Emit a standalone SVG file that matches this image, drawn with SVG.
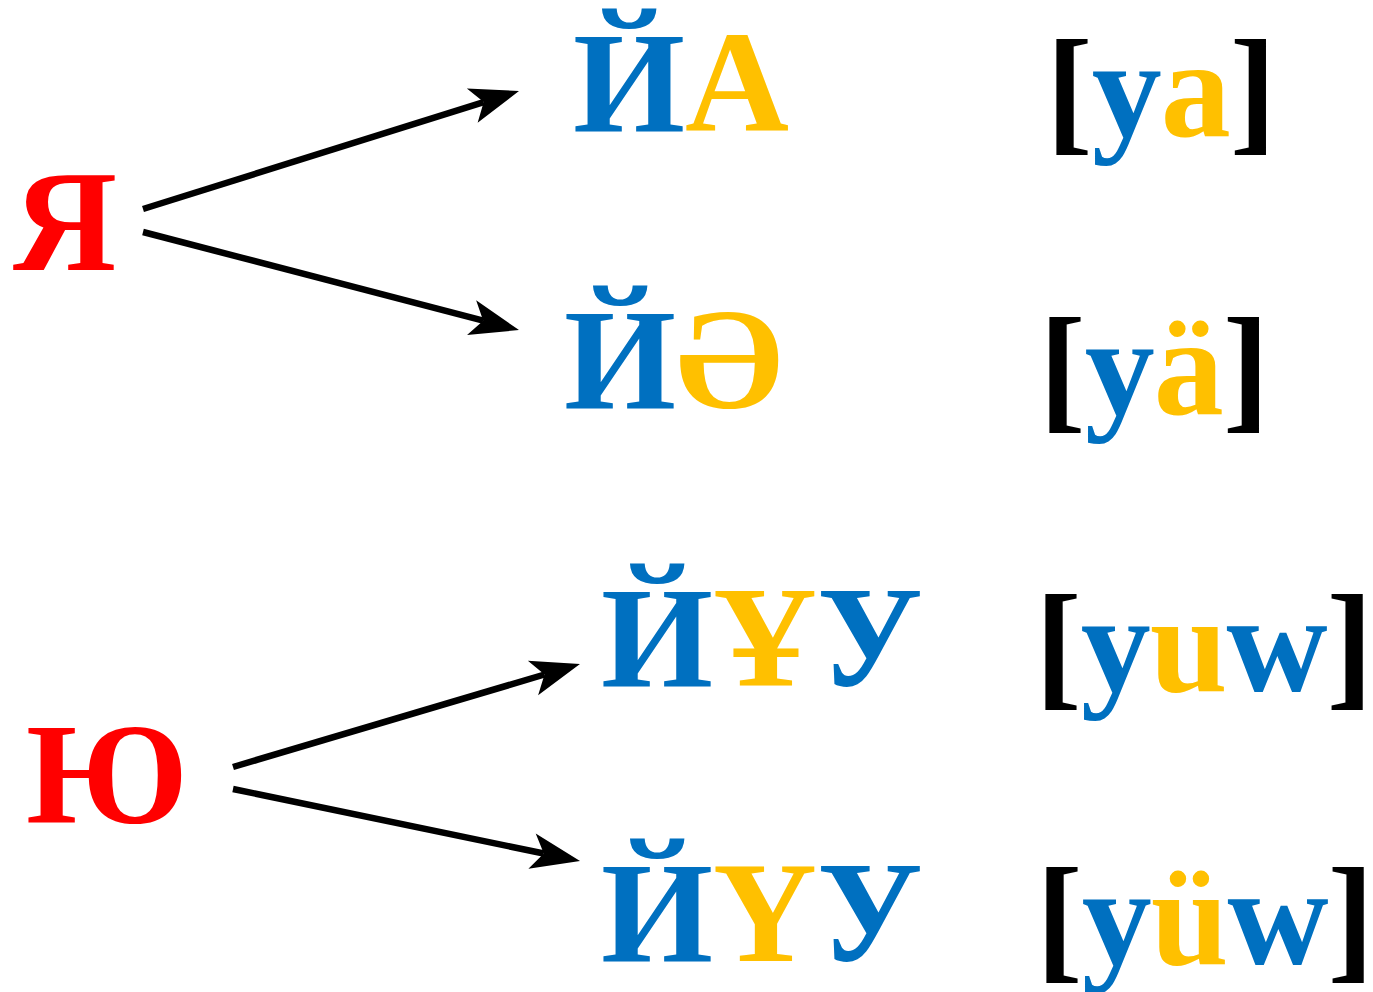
<svg xmlns="http://www.w3.org/2000/svg" width="1373" height="992" viewBox="0 0 1373 992">
<style>
text{font-family:'Liberation Serif','Times New Roman',serif;font-weight:700;font-size:144px}
text.lab{font-size:140px;letter-spacing:-1px}
.r{fill:#FF0000}.b{fill:#0070C0}.y{fill:#FFC000}.k{fill:#000}
.arr{stroke:#000;stroke-width:6.5;fill:none;marker-end:url(#ah)}
</style>
<defs>
<marker id="ah" markerUnits="userSpaceOnUse" viewBox="-15 -20 60 40" markerWidth="60" markerHeight="40" refX="0" refY="0" orient="auto">
<path d="M37,0 L-12,-18 L0,0 L-12,18 Z" fill="#000"/>
</marker>
</defs>
<rect width="1373" height="992" fill="#fff"/>
<g id="connectors">
<line class="arr" x1="143" y1="209" x2="483.7" y2="102.1"/>
<line class="arr" x1="143" y1="232" x2="483.2" y2="320.7"/>
<line class="arr" x1="233" y1="767" x2="544.5" y2="674.5"/>
<line class="arr" x1="233" y1="789" x2="543.8" y2="853.5"/>
</g>
<g id="node-ya-src"><text class="r" x="13" y="270">Я</text></g>
<g id="node-yu-src"><text class="r" x="26" y="823">Ю</text></g>
<g id="node-ya"><text x="573" y="131"><tspan class="b">Й</tspan><tspan class="y">А</tspan></text></g>
<g id="node-yae"><text x="564" y="408"><tspan class="b">Й</tspan><tspan class="y">Ә</tspan></text></g>
<g id="node-yuw"><text x="601" y="686"><tspan class="b">Й</tspan><tspan class="y">Ұ</tspan><tspan class="b">У</tspan></text></g>
<g id="node-yuew"><text x="601" y="961"><tspan class="b">Й</tspan><tspan class="y">Ү</tspan><tspan class="b">У</tspan></text></g>
<g id="label-ya"><text class="lab" x="1046" y="136"><tspan class="k">[</tspan><tspan class="b">y</tspan><tspan class="y">a</tspan><tspan class="k">]</tspan></text></g>
<g id="label-yae"><text class="lab" x="1039" y="414"><tspan class="k">[</tspan><tspan class="b">y</tspan><tspan class="y">ä</tspan><tspan class="k">]</tspan></text></g>
<g id="label-yuw"><text class="lab" x="1035" y="691"><tspan class="k">[</tspan><tspan class="b">y</tspan><tspan class="y">u</tspan><tspan class="b">w</tspan><tspan class="k">]</tspan></text></g>
<g id="label-yuew"><text class="lab" x="1036" y="964"><tspan class="k">[</tspan><tspan class="b">y</tspan><tspan class="y">ü</tspan><tspan class="b">w</tspan><tspan class="k">]</tspan></text></g>
</svg>
